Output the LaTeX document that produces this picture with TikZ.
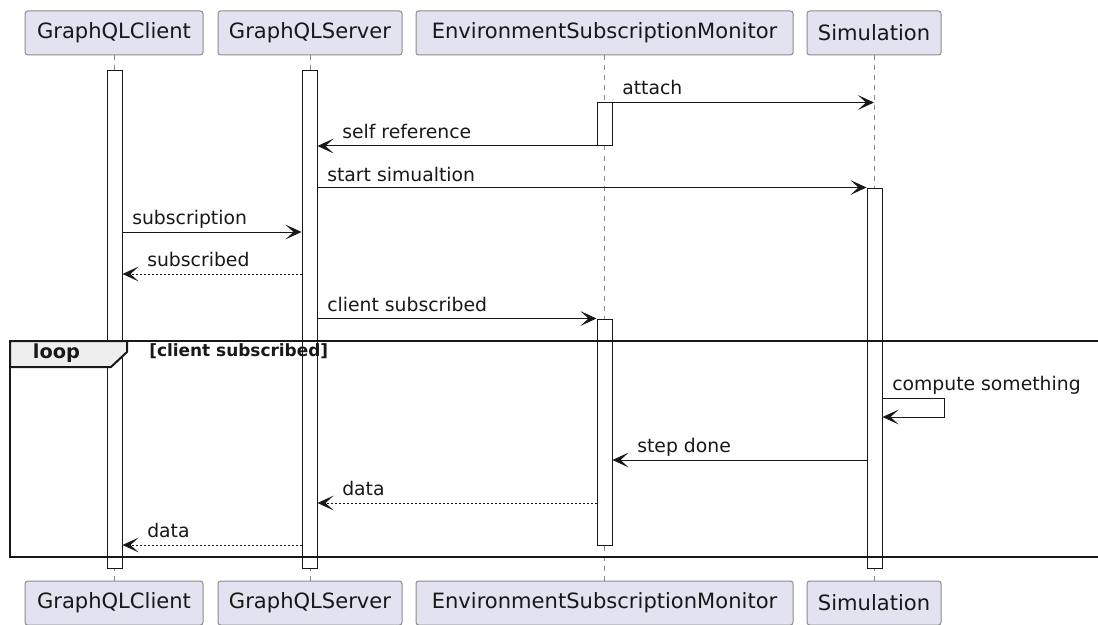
\documentclass[tikz,border=0pt]{standalone}
\usepackage{fontspec}
\setmainfont{DejaVu Sans}
\usetikzlibrary{arrows.meta}
\definecolor{partfill}{HTML}{E2E2F0}
\definecolor{partline}{HTML}{8C8C8C}
\definecolor{ink}{HTML}{181818}
\definecolor{lifegray}{HTML}{8A8A8A}
\definecolor{tabfill}{HTML}{EEEEEE}
\begin{document}
\begin{tikzpicture}[x=0.75pt, y=-0.75pt,
  part/.style={draw=partline, line width=0.75pt, fill=partfill, rounded corners=2pt,
    minimum width=#1, minimum height=33pt, inner sep=0pt, text=ink,
    font=\fontsize{15.8pt}{19pt}\selectfont},
  actbar/.style={draw=ink, line width=0.75pt, fill=white,
    minimum width=11.25pt, minimum height=#1, inner sep=0pt},
  lifeline/.style={draw=lifegray, line width=0.75pt, dash pattern=on 3.75pt off 3.75pt},
  msg/.style={draw=ink, line width=0.75pt,
    -{Stealth[length=12pt,width=11pt,inset=6pt]}},
  reply/.style={msg, dash pattern=on 1.5pt off 1.5pt},
  lbl/.style={anchor=base west, inner sep=0pt, text=ink,
    font=\fontsize{14.1pt}{17pt}\selectfont},
  framebox/.style={draw=ink, line width=1.5pt},
]
\clip (0,0) rectangle (1098,624);

% participants, top and bottom
\node[part=133.5pt]  (cT) at (114,33)   {GraphQLClient};
\node[part=138pt]    (sT) at (310,33)   {GraphQLServer};
\node[part=282.75pt] (eT) at (604.5,33) {EnvironmentSubscriptionMonitor};
\node[part=100.5pt]  (mT) at (874,33)   {Simulation};
\node[part=133.5pt]  (cB) at (114,603)   {GraphQLClient};
\node[part=138pt]    (sB) at (310,603)   {GraphQLServer};
\node[part=282.75pt] (eB) at (604.5,603) {EnvironmentSubscriptionMonitor};
\node[part=100.5pt]  (mB) at (874,603)   {Simulation};

% lifelines
\draw[lifeline] (cT) -- (cB);
\draw[lifeline] (sT) -- (sB);
\draw[lifeline] (eT) -- (eB);
\draw[lifeline] (mT) -- (mB);

% activation bars
\node[actbar=372.75pt] (cBar) at (114.5,319.5) {};
\node[actbar=372.75pt] (sBar) at (309.5,319.5) {};
\node[actbar=31.875pt] (eA)   at (604.5,124.25) {};
\node[actbar=169.5pt]  (eC)   at (604.5,432) {};
\node[actbar=285pt]    (mBar) at (874.5,378) {};

% loop fragment
\draw[framebox] (10,341) rectangle (1120,557);
\draw[framebox, fill=tabfill] (10,341) -- (127,341) -- (127,352) -- (111,367) -- (10,367) -- cycle;
\node[anchor=base, inner sep=0pt, text=ink, font=\fontsize{14.5pt}{17pt}\selectfont\bfseries] (loopLbl) at (56.5,358) {loop};
\node[anchor=base west, inner sep=0pt, text=ink, font=\fontsize{12.7pt}{15pt}\selectfont\bfseries] (guard) at (149,356) {[client subscribed]};

% message rows
\coordinate (m4) at (0,232);
\coordinate (m5) at (0,274);
\coordinate (m7a) at (0,398);
\coordinate (m7b) at (0,417);
\coordinate (m8) at (0,460);
\coordinate (m9) at (0,503);
\coordinate (m10) at (0,545);

% messages
\draw[msg] (eA.north east) -- (eA.north east -| mT);
\node[lbl] (l1) at (622,95) {attach};

\draw[msg] (eA.south west) -- (eA.south west -| sBar.east);
\node[lbl] (l2) at (342,138) {self reference};

\draw[msg] (mBar.north west -| sBar.east) -- (mBar.north west);
\node[lbl] (l3) at (327,181) {start simualtion};

\draw[msg] (m4 -| cBar.east) -- (m4 -| sBar.west);
\node[lbl] (l4) at (132,224.5) {subscription};

\draw[reply] (m5 -| sBar.west) -- (m5 -| cBar.east);
\node[lbl] (l5) at (147,266.5) {subscribed};

\draw[msg] (eC.north west -| sBar.east) -- (eC.north west);
\node[lbl] (l6) at (327,311.5) {client subscribed};

\draw[msg] (m7a -| mBar.east) -- ++(62,0) -- ++(0,19) -- (m7b -| mBar.east);
\node[lbl] (l7) at (892,390.5) {compute something};

\draw[msg] (m8 -| mBar.west) -- (m8 -| eC.east);
\node[lbl] (l8) at (637,452.5) {step done};

\draw[reply] (m9 -| eC.west) -- (m9 -| sBar.east);
\node[lbl] (l9) at (342,495) {data};

\draw[reply] (m10 -| sBar.west) -- (m10 -| cBar.east);
\node[lbl] (l10) at (147,537.5) {data};
\end{tikzpicture}
\end{document}
